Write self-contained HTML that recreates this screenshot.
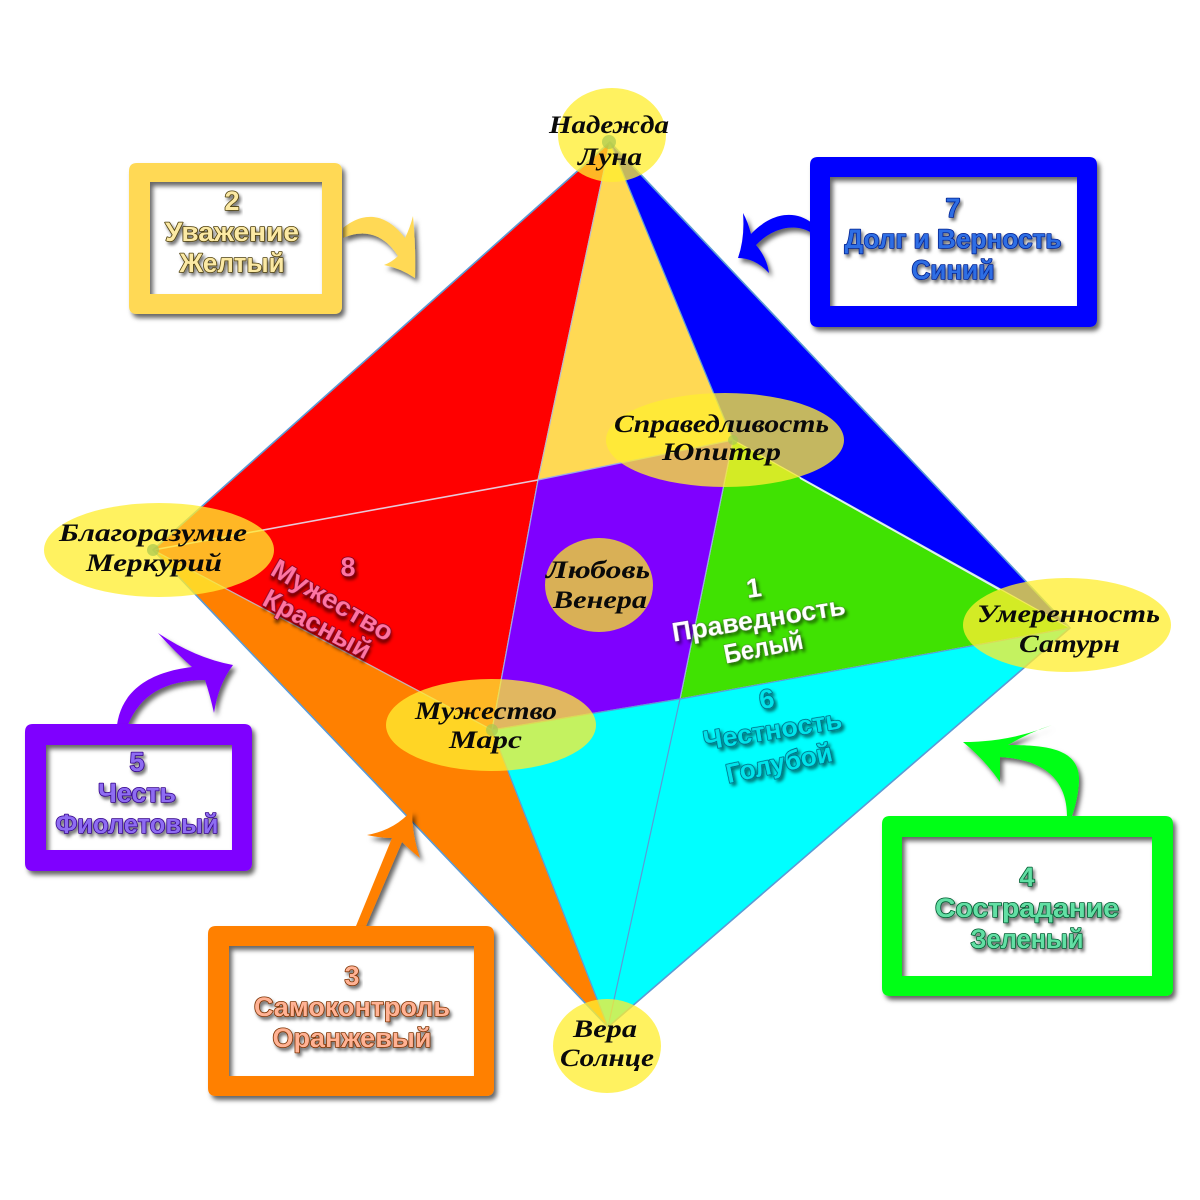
<!DOCTYPE html>
<html><head><meta charset="utf-8"><style>
html,body{margin:0;padding:0;background:#fff}
svg{display:block}
.s{font-family:"Liberation Serif","DejaVu Serif",serif;font-style:italic;font-weight:bold;font-size:25px;fill:#0a0a0a;text-anchor:start}
.b{font-family:"Liberation Sans","DejaVu Sans",sans-serif;font-weight:bold;font-size:27px;paint-order:stroke;stroke-width:1.6px;stroke-linejoin:round;filter:url(#ts)}
</style></head><body>
<svg width="1200" height="1200" viewBox="0 0 1200 1200" xmlns="http://www.w3.org/2000/svg">
<defs>
<filter id="ds" x="-10%" y="-10%" width="125%" height="125%"><feDropShadow dx="3" dy="4" stdDeviation="2.5" flood-color="#000" flood-opacity=".6"/></filter>
<filter id="ts" x="-20%" y="-30%" width="140%" height="170%"><feDropShadow dx="2" dy="3" stdDeviation="1.6" flood-color="#000" flood-opacity=".55"/></filter>
</defs>
<rect width="1200" height="1200" fill="#fff"/>
<!-- octahedron -->
<g stroke-width="1.2" stroke-linejoin="round">
<polygon points="610,142 153,550 492,730 538,480" fill="#ff0000" stroke="#c9c9e0"/>
<polygon points="610,142 733,440 538,480" fill="#ffd954" stroke="#b9bccb"/>
<polygon points="610,142 1070,628 733,440" fill="#0000ff" stroke="#5b9bd5"/>
<polygon points="733,440 1070,628 680,699" fill="#40e202" stroke="#c9e0e0"/>
<polygon points="538,480 733,440 680,699 492,730" fill="#7f00ff" stroke="#9aa8e8"/>
<polygon points="153,550 608,1027 492,730" fill="#ff8000" stroke="#c9b0b0"/>
<polygon points="492,730 680,699 1070,628 608,1027" fill="#00ffff" stroke="#5b9bd5"/>
<line x1="680" y1="699" x2="608" y2="1027" stroke="#5b9bd5"/>
<line x1="153" y1="550" x2="538" y2="480" stroke="#e8c8d8" stroke-width="1.6"/>
<line x1="800" y1="478" x2="1000" y2="590" stroke="#e0f0f0" stroke-width="1.6"/>
<polyline points="610,142 153,550 608,1027 1070,628 610,142" fill="none" stroke="#5b9bd5" stroke-width="1.6"/>
</g>
<!-- node ellipses -->
<g fill="#ffee30" fill-opacity=".77">
<ellipse cx="612" cy="135" rx="54" ry="47"/>
<ellipse cx="725" cy="440" rx="119" ry="47"/>
<ellipse cx="159" cy="550" rx="115" ry="47"/>
<ellipse cx="1067" cy="625" rx="104" ry="47"/>
<ellipse cx="491" cy="725" rx="105" ry="46"/>
<ellipse cx="607" cy="1046" rx="54" ry="47"/>
</g>
<ellipse cx="599" cy="585" rx="54" ry="47" fill="#d9b056"/>
<g fill="#a8c850" fill-opacity=".7">
<circle cx="609" cy="142" r="7"/><circle cx="153" cy="550" r="6"/><circle cx="733" cy="440" r="5"/><circle cx="492" cy="730" r="6"/>
</g>
<!-- arrows -->
<g filter="url(#ds)">
<path fill="#ffd954" d="M343,228 C355,218 380,205 405,238 Q410,228 413,216 Q416,250 415,278 Q400,268 384,265 Q392,262 398,256 C385,235 365,228 343,238 Z"/>
<path fill="#0000ff" d="M812,223 C795,210 772,212 751,234 Q748,222 743,213 Q745,238 738,258 Q755,258 769,273 Q767,258 756,245 C772,228 795,222 812,233 Z"/>
<path fill="#7f00ff" d="M117,725 C122,690 150,672 192,667 Q175,652 158,633 Q195,658 233,665 Q218,685 214,713 Q210,695 205,680 C165,680 140,695 128,725 Z"/>
<path fill="#00ff14" d="M1067,816 C1067,790 1055,760 1000,757 L1000,782 Q985,760 963,742 Q1010,742 1052,725 Q1030,732 1008,745 C1050,745 1078,750 1079,778 Q1079,795 1072,816 Z"/>
<path fill="#ff8000" d="M356,926 L392,838 Q380,838 367,835 Q395,830 412,810 Q412,835 420,858 Q410,850 402,842 L366,926 Z"/>
</g>
<!-- frames -->
<g filter="url(#ds)" fill-rule="evenodd">
<path fill="#ffd954" d="M137,163 H334 Q342,163 342,171 V306 Q342,314 334,314 H137 Q129,314 129,306 V171 Q129,163 137,163 Z M150,182 V294 H322 V182 Z"/>
<path fill="#0000ff" d="M818,157 H1089 Q1097,157 1097,165 V319 Q1097,327 1089,327 H818 Q810,327 810,319 V165 Q810,157 818,157 Z M830,177 V306 H1077 V177 Z"/>
<path fill="#7f00ff" d="M33,724 H244 Q252,724 252,732 V863 Q252,871 244,871 H33 Q25,871 25,863 V732 Q25,724 33,724 Z M46,745 V850 H232 V745 Z"/>
<path fill="#00ff14" d="M890,816 H1165 Q1173,816 1173,824 V988 Q1173,996 1165,996 H890 Q882,996 882,988 V824 Q882,816 890,816 Z M902,837 V976 H1152 V837 Z"/>
<path fill="#ff8000" d="M216,926 H486 Q494,926 494,934 V1088 Q494,1096 486,1096 H216 Q208,1096 208,1088 V934 Q208,926 216,926 Z M229,946 V1076 H474 V946 Z"/>
</g>
<!-- node labels -->
<g class="s">
<text class="s" x="549" y="133" textLength="120" lengthAdjust="spacingAndGlyphs">Надежда</text>
<text class="s" x="578" y="165" textLength="64" lengthAdjust="spacingAndGlyphs">Луна</text>
<text class="s" x="614" y="432" textLength="215" lengthAdjust="spacingAndGlyphs">Справедливость</text>
<text class="s" x="662" y="460" textLength="119" lengthAdjust="spacingAndGlyphs">Юпитер</text>
<text class="s" x="59" y="541" textLength="188" lengthAdjust="spacingAndGlyphs">Благоразумие</text>
<text class="s" x="86" y="571" textLength="136" lengthAdjust="spacingAndGlyphs">Меркурий</text>
<text class="s" x="977" y="622" textLength="183" lengthAdjust="spacingAndGlyphs">Умеренность</text>
<text class="s" x="1019" y="652" textLength="101" lengthAdjust="spacingAndGlyphs">Сатурн</text>
<text class="s" x="415" y="719" textLength="142" lengthAdjust="spacingAndGlyphs">Мужество</text>
<text class="s" x="449" y="748" textLength="73" lengthAdjust="spacingAndGlyphs">Марс</text>
<text class="s" x="573" y="1037" textLength="64" lengthAdjust="spacingAndGlyphs">Вера</text>
<text class="s" x="560" y="1066" textLength="94" lengthAdjust="spacingAndGlyphs">Солнце</text>
<text class="s" x="546" y="578" textLength="104" lengthAdjust="spacingAndGlyphs">Любовь</text>
<text class="s" x="553" y="608" textLength="94" lengthAdjust="spacingAndGlyphs">Венера</text>
</g>
<!-- box labels -->
<g fill="#fbe9a4" stroke="#4c3c08" text-anchor="middle">
<text class="b" x="232" y="210">2</text>
<text class="b" x="232" y="241" textLength="134" lengthAdjust="spacingAndGlyphs">Уважение</text>
<text class="b" x="232" y="272" textLength="105" lengthAdjust="spacingAndGlyphs">Желтый</text>
</g>
<g fill="#2f6ee4" stroke="#06208e" text-anchor="middle">
<text class="b" x="953" y="217">7</text>
<text class="b" x="953" y="248" textLength="217" lengthAdjust="spacingAndGlyphs">Долг и Верность</text>
<text class="b" x="953" y="279" textLength="83" lengthAdjust="spacingAndGlyphs">Синий</text>
</g>
<g fill="#8e6cf2" stroke="#320088" text-anchor="middle">
<text class="b" x="137" y="771">5</text>
<text class="b" x="137" y="802" textLength="78" lengthAdjust="spacingAndGlyphs">Честь</text>
<text class="b" x="137" y="833" textLength="163" lengthAdjust="spacingAndGlyphs">Фиолетовый</text>
</g>
<g fill="#62dfa4" stroke="#005c30" text-anchor="middle">
<text class="b" x="1027" y="886">4</text>
<text class="b" x="1027" y="917" textLength="184" lengthAdjust="spacingAndGlyphs">Сострадание</text>
<text class="b" x="1027" y="948" textLength="113" lengthAdjust="spacingAndGlyphs">Зеленый</text>
</g>
<g fill="#ffb294" stroke="#7c3000" text-anchor="middle">
<text class="b" x="352" y="985">3</text>
<text class="b" x="352" y="1016" textLength="196" lengthAdjust="spacingAndGlyphs">Самоконтроль</text>
<text class="b" x="352" y="1047" textLength="159" lengthAdjust="spacingAndGlyphs">Оранжевый</text>
</g>
<!-- rotated labels -->
<g fill="#ffffff" stroke="#3a3a3a" stroke-opacity=".35" text-anchor="middle">
<text class="b" transform="translate(755,597) rotate(-8)">1</text>
<text class="b" transform="translate(760,628) rotate(-9)" textLength="175" lengthAdjust="spacingAndGlyphs">Праведность</text>
<text class="b" transform="translate(765,656) rotate(-11)" textLength="80" lengthAdjust="spacingAndGlyphs">Белый</text>
</g>
<g fill="#00e4ea" stroke="#00607c" text-anchor="middle">
<text class="b" transform="translate(768,708) rotate(-8)">6</text>
<text class="b" transform="translate(774,739) rotate(-9)" textLength="140" lengthAdjust="spacingAndGlyphs">Честность</text>
<text class="b" transform="translate(781,772) rotate(-12)" textLength="108" lengthAdjust="spacingAndGlyphs">Голубой</text>
</g>
<g fill="#ff74a4" stroke="#7c0020" text-anchor="middle">
<text class="b" x="348" y="576">8</text>
<text class="b" transform="translate(328,608) rotate(30)" textLength="136" lengthAdjust="spacingAndGlyphs">Мужество</text>
<text class="b" transform="translate(313,632) rotate(28)" textLength="118" lengthAdjust="spacingAndGlyphs">Красный</text>
</g>
</svg>
</body></html>
